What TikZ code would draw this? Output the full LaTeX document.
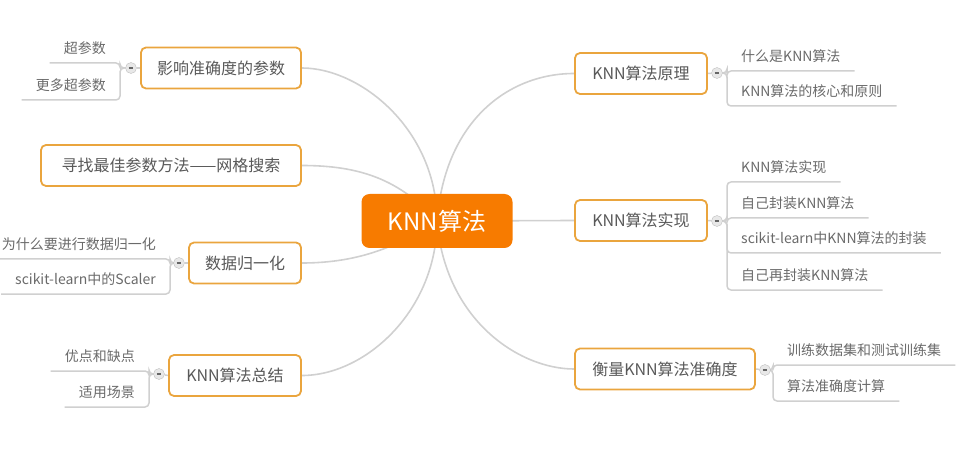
\documentclass[tikz,border=0pt]{standalone}
\usepackage{fontspec}
\setmainfont{Noto Sans CJK SC}
\usepackage{tikz}
\usetikzlibrary{positioning,backgrounds}
\usepackage{xcolor}
\definecolor{RootOrange}{HTML}{F77B00}
\definecolor{TopicBorder}{HTML}{EAA53E}
\definecolor{TopicText}{HTML}{595959}
\definecolor{LeafText}{HTML}{6A6A6A}
\definecolor{LinkGray}{HTML}{D0D0D0}

\begin{document}
\begin{tikzpicture}[x=1pt, y=-1pt,
   root/.style={fill=RootOrange, rounded corners=8pt, text=white, font=\fontsize{24}{27}\selectfont,
                minimum width=151pt, minimum height=54pt},
   topic/.style={draw=TopicBorder, line width=1.8pt, fill=white, rounded corners=5pt, text=TopicText,
                 font=\fontsize{16}{19}\selectfont, minimum height=41pt},
   leaf/.style={text=LeafText, font=\fontsize{14}{16}\selectfont, inner xsep=14pt, inner ysep=6pt,
                text height=10pt, text depth=3pt},
   fold/.style={circle, draw=black!25, fill=black!9, minimum size=11pt, inner sep=0pt,
                path picture={\draw[line width=1.3pt, black!60]
                  ([xshift=-2.3pt]path picture bounding box.center) -- ([xshift=2.3pt]path picture bounding box.center);}},
   branch/.style={draw=LinkGray, line width=1.6pt},
   twig/.style={draw=LinkGray, line width=1.5pt, rounded corners=4pt}]
  \useasboundingbox (0,0) rectangle (964,449);

  % centre and main topics
  \node[root] (knn) at (437,221) {KNN算法};
  \node[topic, minimum width=160pt] (p1) at (221,68)    {影响准确度的参数};
  \node[topic, minimum width=260pt] (p2) at (171,165.5) {寻找最佳参数方法——网格搜索};
  \node[topic, minimum width=112pt] (p3) at (245,263)   {数据归一化};
  \node[topic, minimum width=132pt] (p4) at (235,375.5) {KNN算法总结};
  \node[topic, minimum width=132pt] (r1) at (641,73.5)  {KNN算法原理};
  \node[topic, minimum width=132pt] (r2) at (641,220.5) {KNN算法实现};
  \node[topic, minimum width=180pt] (r3) at (665,369)   {衡量KNN算法准确度};

  % fold buttons
  \node[fold] (f1) at (131,68)  {};
  \node[fold] (f3) at (179,263) {};
  \node[fold] (f4) at (159,374) {};
  \node[fold] (g1) at (717,73)  {};
  \node[fold] (g2) at (717,221) {};
  \node[fold] (g3) at (765,370) {};

  % leaves
  \node[leaf, anchor=south east] (l1a) at (120,63)  {超参数};
  \node[leaf, anchor=south east] (l1b) at (120,100) {更多超参数};
  \node[leaf, anchor=south east] (l3a) at (170,259) {为什么要进行数据归一化};
  \node[leaf, anchor=south east] (l3b) at (170,294) {scikit-learn中的Scaler};
  \node[leaf, anchor=south east] (l4a) at (149,371) {优点和缺点};
  \node[leaf, anchor=south east] (l4b) at (149,407) {适用场景};
  \node[leaf, anchor=south west] (s1a) at (727,71)  {什么是KNN算法};
  \node[leaf, anchor=south west] (s1b) at (727,106) {KNN算法的核心和原则};
  \node[leaf, anchor=south west] (s2a) at (727,182) {KNN算法实现};
  \node[leaf, anchor=south west] (s2b) at (727,218) {自己封装KNN算法};
  \node[leaf, anchor=south west] (s2c) at (727,253) {scikit-learn中KNN算法的封装};
  \node[leaf, anchor=south west] (s2d) at (727,290) {自己再封装KNN算法};
  \node[leaf, anchor=south west] (s3a) at (773,365) {训练数据集和测试训练集};
  \node[leaf, anchor=south west] (s3b) at (773,401) {算法准确度计算};

  \begin{scope}[on background layer]
    % branches from the centre
    \draw[branch] (knn.center) .. controls +(0,-91) and +(59,0) .. (p1.east);
    \draw[branch] (knn.center) .. controls +(-37,-41) and +(59,0) .. (p2.east);
    \draw[branch] (knn.center) .. controls +(-37,24) and +(59,0) .. (p3.east);
    \draw[branch] (knn.center) .. controls +(0,89) and +(64,0) .. (p4.east);
    \draw[branch] (knn.center) .. controls +(8,-101) and +(-65,0) .. (r1.west);
    \draw[branch] (knn.center) -- (r2.west);
    \draw[branch] (knn.center) .. controls +(8,99) and +(-55,0) .. (r3.west);

    % topic to fold button
    \draw[twig] (p1.west) -- (f1);
    \draw[twig] (p3.west) -- (f3);
    \draw[twig] (p4.west) -- (f4);
    \draw[twig] (r1.east) -- (g1);
    \draw[twig] (r2.east) -- (g2);
    \draw[twig] (r3.east) -- (g3);

    % fold button to leaves
    \draw[twig] (f1.west) -| (l1a.south east) -- (l1a.south west);
    \draw[twig] (f1.west) -| (l1b.south east) -- (l1b.south west);
    \draw[twig] (f3.west) -| (l3a.south east) -- (l3a.south west);
    \draw[twig] (f3.west) -| (l3b.south east) -- (l3b.south west);
    \draw[twig] (f4.west) -| (l4a.south east) -- (l4a.south west);
    \draw[twig] (f4.west) -| (l4b.south east) -- (l4b.south west);
    \draw[twig] (g1.east) -| (s1a.south west) -- (s1a.south east);
    \draw[twig] (g1.east) -| (s1b.south west) -- (s1b.south east);
    \draw[twig] (g2.east) -| (s2a.south west) -- (s2a.south east);
    \draw[twig] (g2.east) -| (s2b.south west) -- (s2b.south east);
    \draw[twig] (g2.east) -| (s2c.south west) -- (s2c.south east);
    \draw[twig] (g2.east) -| (s2d.south west) -- (s2d.south east);
    \draw[twig] (g3.east) -| (s3a.south west) -- (s3a.south east);
    \draw[twig] (g3.east) -| (s3b.south west) -- (s3b.south east);
  \end{scope}
\end{tikzpicture}
\end{document}
